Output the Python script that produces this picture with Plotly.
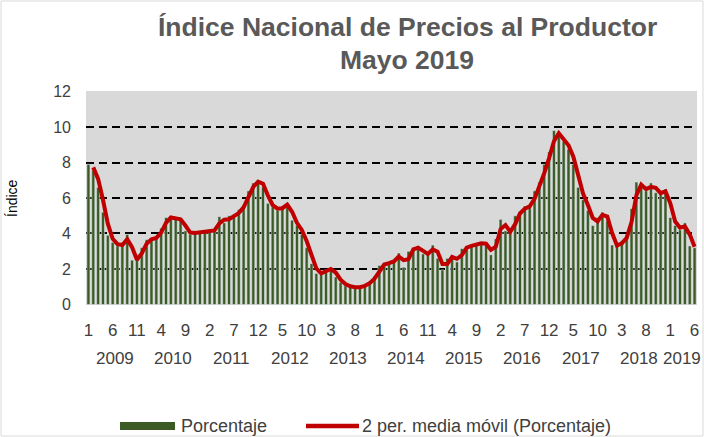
import plotly.graph_objects as go
import pandas as pd

# ---- data ----
anios = ["2009", "2010", "2011", "2012", "2013", "2014", "2015", "2016", "2017", "2018", "2019"]
meses_por_anio = [12, 12, 12, 12, 12, 12, 12, 12, 12, 12, 6]

porcentaje = [
    7.9, 7.55, 6.6, 5.2, 3.9, 3.5, 3.3, 3.4, 3.95, 2.5, 2.55, 3.2,          # 2009
    3.65, 3.7, 3.8, 4.3, 4.9, 4.9, 4.85, 4.75, 4.15, 3.95, 4.1, 4.05,       # 2010
    4.2, 4.15, 4.2, 4.95, 4.6, 5.0, 4.95, 5.35, 5.6, 6.4, 6.85, 7.0,        # 2011
    6.6, 5.7, 5.5, 5.3, 5.55, 5.7, 4.75, 4.45, 3.95, 3.2, 2.3, 1.75,        # 2012
    1.75, 1.95, 2.05, 1.55, 1.25, 1.05, 1.0, 0.95, 1.0, 1.1, 1.3, 1.6,      # 2013
    2.2, 2.3, 2.35, 2.5, 2.9, 2.1, 3.0, 3.2, 3.2, 2.85, 2.85, 3.35,         # 2014
    2.6, 1.95, 2.6, 2.75, 2.4, 3.15, 3.25, 3.35, 3.4, 3.5, 3.35, 2.8,       # 2015
    3.7, 4.8, 4.15, 4.05, 5.0, 5.25, 5.55, 5.5, 6.4, 6.9, 7.9, 8.6,         # 2016
    9.8, 9.5, 9.2, 8.75, 7.9, 6.6, 5.9, 5.3, 4.45, 4.9, 5.2, 4.7,           # 2017
    3.35, 3.3, 3.6, 3.9, 5.4, 6.9, 6.6, 6.4, 6.85, 6.3, 6.25, 6.5,          # 2018
    4.9, 4.45, 4.2, 4.6, 3.3, 3.2,                                          # 2019
]

etiquetas_mes = ["1", "6", "11", "4", "9", "2", "7", "12", "5", "10", "3", "8", "1",
                 "6", "11", "4", "9", "2", "7", "12", "5", "10", "3", "8", "1", "6"]

titulo_1 = "Índice Nacional de Precios al Productor"
titulo_2 = "Mayo 2019"
nombre_barras = "Porcentaje"
nombre_linea = "2 per. media móvil (Porcentaje)"

# ---- derived ----
fechas = []
for a, n in zip(anios, meses_por_anio):
    for m in range(1, n + 1):
        fechas.append(f"{a}-{m}")

media_movil = pd.Series(porcentaje).rolling(2).mean().tolist()

FONT = "Liberation Sans, Arial, sans-serif"
GREEN = "#3B5A24"
RED = "#C00000"
TXT = "#404040"

W, H = 704, 437
L, R, T, B = 86, 7, 91, 132
pw, ph = W - L - R, H - T - B


def px(xp):
    return (xp - L) / pw


def py(yp):
    return (H - B - yp) / ph


fig = go.Figure()
fig.add_trace(go.Bar(x=fechas, y=porcentaje, marker_color=GREEN, name=nombre_barras))
fig.add_trace(go.Scatter(x=fechas, y=media_movil, mode="lines", name=nombre_linea,
                         line=dict(color=RED, width=4), connectgaps=False))

# year labels under month labels
inicio = 0
for a, n in zip(anios, meses_por_anio):
    centro = inicio + (n - 1) / 2
    fig.add_annotation(x=centro, y=0, xref="x", yref="paper", text=a, showarrow=False,
                       yanchor="middle", yshift=-53, font=dict(family=FONT, size=17, color=TXT))
    inicio += n

# title lines
fig.add_annotation(x=px(407), y=py(27), xref="paper", yref="paper", text=f"<b>{titulo_1}</b>",
                   showarrow=False, xanchor="center", yanchor="middle",
                   font=dict(family=FONT, size=26.5, color="#595959"))
fig.add_annotation(x=px(407), y=py(60), xref="paper", yref="paper", text=f"<b>{titulo_2}</b>",
                   showarrow=False, xanchor="center", yanchor="middle",
                   font=dict(family=FONT, size=26.5, color="#595959"))

# y-axis title
fig.add_annotation(x=px(12), y=py(198), xref="paper", yref="paper", text="Índice", textangle=-90,
                   showarrow=False, xanchor="center", yanchor="middle",
                   font=dict(family=FONT, size=14, color="#000000"))

# legend (drawn to match the reference's wide swatches)
LEG_Y = 426
fig.add_shape(type="rect", xref="paper", yref="paper", x0=px(120), x1=px(175),
              y0=py(LEG_Y + 4), y1=py(LEG_Y - 4), line=dict(width=0), fillcolor=GREEN)
fig.add_annotation(x=px(179), y=py(LEG_Y), xref="paper", yref="paper", text=nombre_barras,
                   showarrow=False, xanchor="left", yanchor="middle",
                   font=dict(family=FONT, size=18, color=TXT))
fig.add_shape(type="line", xref="paper", yref="paper", x0=px(306), x1=px(359),
              y0=py(LEG_Y), y1=py(LEG_Y), line=dict(color=RED, width=4.5))
fig.add_annotation(x=px(360), y=py(LEG_Y), xref="paper", yref="paper", text=nombre_linea,
                   showarrow=False, xanchor="left", yanchor="middle",
                   font=dict(family=FONT, size=18, color=TXT))

# outer border
fig.add_shape(type="rect", xref="paper", yref="paper",
              x0=px(1), x1=px(W - 1), y0=py(H - 1), y1=py(1),
              line=dict(color="#D9D9D9", width=1), fillcolor="rgba(0,0,0,0)", layer="below")

fig.update_layout(
    width=W, height=H,
    margin=dict(l=L, r=R, t=T, b=B, autoexpand=False),
    paper_bgcolor="white", plot_bgcolor="#D9D9D9",
    bargap=0.38,
    showlegend=False,
    font=dict(family=FONT, size=15, color=TXT),
)
fig.update_xaxes(type="category", tickmode="array", tickvals=fechas[::5], ticktext=etiquetas_mes,
                 tickangle=0, showgrid=False, showline=False, ticks="", ticklabelstandoff=13,
                 range=[-0.5, len(fechas) - 0.5], tickfont=dict(family=FONT, size=17, color=TXT))
fig.update_yaxes(range=[-0.03, 12.03], tickmode="array", tickvals=[0, 2, 4, 6, 8, 10, 12],
                 showgrid=True, gridcolor="#000000", gridwidth=1.6, griddash="8px,5px",
                 zeroline=False, showline=False, ticks="", ticklabelstandoff=14,
                 tickfont=dict(family=FONT, size=16, color=TXT))

fig.write_html("out.html", config={"displayModeBar": False},
               post_script="document.body.style.margin='0';document.body.style.padding='0';")
